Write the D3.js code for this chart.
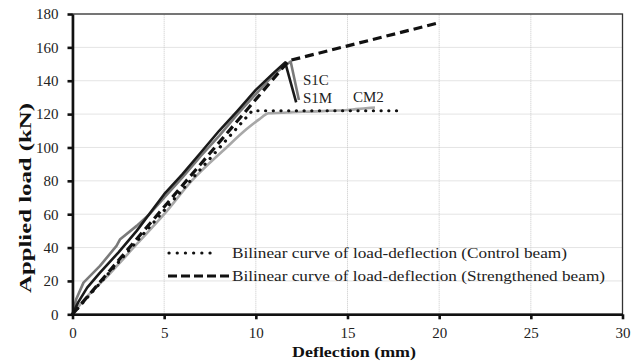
<!DOCTYPE html>
<html>
<head>
<meta charset="utf-8">
<script src="https://cdn.jsdelivr.net/npm/d3@7"></script>
<style>
html,body{margin:0;padding:0;background:#fff;}
svg{display:block;font-family:"Liberation Serif","Times New Roman",serif;}
</style>
</head>
<body>
<svg id="chart" width="644" height="362"></svg>
<script>
// ---- data ----
const xTicks = [0, 5, 10, 15, 20, 25, 30];
const yTicks = [0, 20, 40, 60, 80, 100, 120, 140, 160, 180];

const s1mX = [0, 0.3, 0.8, 1.5, 2.5, 3.5, 5, 6, 7, 8, 9, 10, 11, 11.6, 12.2];
const s1mY = [0, 7, 16, 25, 37, 50, 72, 84, 97, 110, 122, 134.5, 145, 151, 127];

const s1cX = [0, 0.2, 0.6, 1.5, 2.4, 2.6, 3.5, 4.2, 5, 6, 7, 8, 9, 10, 11, 11.9, 12.35];
const s1cY = [0, 9, 19, 29, 41, 45, 53, 60, 70, 82, 95, 107, 120, 132, 144, 151.5, 128.5];

const cm2X = [0, 0.5, 2, 3.5, 5, 6.5, 8.4, 9.5, 10.2, 10.7, 11.4, 12, 13, 14, 15, 16, 16.5];
const cm2Y = [0, 7, 24, 42, 60, 80, 100, 111, 117, 120.5, 120.8, 121.2, 121.5, 122, 122.5, 123.5, 124];

const ctrlX = [0, 9.8, 18];
const ctrlY = [0, 122, 122];

const strX = [0, 11.8, 19.9];
const strY = [0, 152, 174.5];

const legendLabels = [
  "Bilinear curve of load-deflection (Control beam)",
  "Bilinear curve of load-deflection (Strengthened beam)"
];
const curveLabels = ["S1C", "S1M", "CM2"];

// ---- layout ----
const svg = d3.select("#chart");
const x = d3.scaleLinear().domain([0, 30]).range([72.5, 622.5]);
const y = d3.scaleLinear().domain([0, 180]).range([314.3, 14]);

// gridlines
const grid = svg.append("g");
grid.selectAll("line.h").data(yTicks.slice(1)).enter().append("line")
  .attr("x1", x(0)).attr("x2", x(30))
  .attr("y1", d => y(d)).attr("y2", d => y(d))
  .attr("stroke", "#c8c8c8").attr("stroke-width", 1).attr("stroke-dasharray", "1,1");
grid.selectAll("line.v").data(xTicks.slice(1)).enter().append("line")
  .attr("y1", y(0)).attr("y2", y(180))
  .attr("x1", d => x(d)).attr("x2", d => x(d))
  .attr("stroke", "#c8c8c8").attr("stroke-width", 1).attr("stroke-dasharray", "1,1");

// frame
svg.append("rect").attr("x", x(0)).attr("y", y(180))
  .attr("width", x(30) - x(0)).attr("height", y(0) - y(180))
  .attr("fill", "none").attr("stroke", "#333").attr("stroke-width", 1.3);

const line = d3.line().x(d => x(d[0])).y(d => y(d[1]));
const zip = (a, b) => a.map((v, i) => [v, b[i]]);

// series
svg.append("path").datum(zip(cm2X, cm2Y)).attr("d", line.curve(d3.curveMonotoneX))
  .attr("fill", "none").attr("stroke", "#a8a8a8").attr("stroke-width", 2.6).attr("stroke-linejoin", "round");
line.curve(d3.curveLinear);
svg.append("path").datum(zip(s1cX, s1cY)).attr("d", line)
  .attr("fill", "none").attr("stroke", "#7a7a7a").attr("stroke-width", 2.6).attr("stroke-linejoin", "round");
svg.append("path").datum(zip(s1mX, s1mY)).attr("d", line)
  .attr("fill", "none").attr("stroke", "#1a1a1a").attr("stroke-width", 2.6).attr("stroke-linejoin", "round");
svg.append("path").datum(zip(ctrlX, ctrlY)).attr("d", line)
  .attr("fill", "none").attr("stroke", "#111").attr("stroke-width", 3.2)
  .attr("stroke-linecap", "round").attr("stroke-dasharray", "0.1,7.6");
svg.append("path").datum(zip(strX, strY)).attr("d", line)
  .attr("fill", "none").attr("stroke", "#111").attr("stroke-width", 3.2)
  .attr("stroke-dasharray", "9,5");

// axes
const xAxis = d3.axisBottom(x).tickValues(xTicks).tickSize(5).tickSizeOuter(0).tickPadding(8);
const gx = svg.append("g").attr("transform", `translate(0,${y(0)})`).call(xAxis);
gx.select(".domain").attr("stroke", "#111").attr("stroke-width", 2.6);
gx.selectAll(".tick line").attr("stroke", "#111").attr("stroke-width", 2.6);
gx.selectAll(".tick text").attr("font-size", 15).attr("font-family", "Liberation Serif").attr("fill", "#222");

const yAxis = d3.axisLeft(y).tickValues(yTicks).tickSize(5).tickSizeOuter(0).tickPadding(9);
const gy = svg.append("g").attr("transform", `translate(${x(0)},0)`).call(yAxis);
gy.select(".domain").attr("stroke", "#111").attr("stroke-width", 2.6);
gy.selectAll(".tick line").attr("stroke", "#111").attr("stroke-width", 2.6);
gy.selectAll(".tick text").attr("font-size", 15).attr("font-family", "Liberation Serif").attr("fill", "#222");

// axis titles
svg.append("text").attr("x", 292).attr("y", 357)
  .attr("font-size", 15).attr("font-weight", "bold").attr("fill", "#111")
  .attr("textLength", 124).attr("lengthAdjust", "spacingAndGlyphs")
  .text("Deflection (mm)");
svg.append("text").attr("transform", "translate(31,293) rotate(-90)")
  .attr("font-size", 16).attr("font-weight", "bold").attr("fill", "#111")
  .attr("textLength", 190).attr("lengthAdjust", "spacingAndGlyphs")
  .text("Applied load (kN)");

// curve labels
const lblPos = [[303, 85], [303, 103], [353, 102]];
svg.selectAll("text.cl").data(curveLabels).enter().append("text")
  .attr("x", (d, i) => lblPos[i][0]).attr("y", (d, i) => lblPos[i][1])
  .attr("font-size", 15).attr("fill", "#222").text(d => d);

// legend
const lg = svg.append("g");
lg.append("line").attr("x1", 169).attr("x2", 218).attr("y1", 253).attr("y2", 253)
  .attr("stroke", "#111").attr("stroke-width", 3.2).attr("stroke-linecap", "round").attr("stroke-dasharray", "0.1,8.1");
lg.append("line").attr("x1", 168).attr("x2", 229).attr("y1", 276).attr("y2", 276)
  .attr("stroke", "#111").attr("stroke-width", 3.2).attr("stroke-dasharray", "9,4");
const legendLen = [335, 373];
lg.selectAll("text").data(legendLabels).enter().append("text")
  .attr("x", 232).attr("y", (d, i) => 258 + i * 22.7)
  .attr("font-size", 15).attr("fill", "#222")
  .attr("textLength", (d, i) => legendLen[i]).attr("lengthAdjust", "spacingAndGlyphs")
  .text(d => d);
</script>
</body>
</html>
